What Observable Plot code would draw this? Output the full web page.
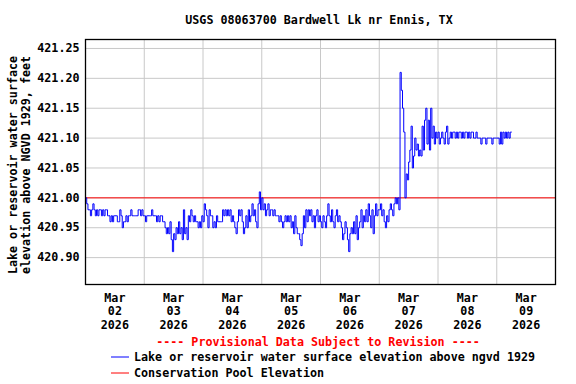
<!DOCTYPE html>
<html><head><meta charset="utf-8">
<script src="https://cdn.jsdelivr.net/npm/d3@7"></script>
<script src="https://cdn.jsdelivr.net/npm/@observablehq/plot@0.6"></script>
<style>body{margin:0;background:#fff} svg{display:block}</style>
</head><body><div id="chart"></div>
<script>
const title = "USGS 08063700 Bardwell Lk nr Ennis, TX";
const yLabel = ["Lake or reservoir water surface", "elevation above NGVD 1929, feet"];
const notice = "---- Provisional Data Subject to Revision ----";
const seriesNames = ["Lake or reservoir water surface elevation above ngvd 1929", "Conservation Pool Elevation"];
const seriesColors = ["#0000ff", "#ff0000"];
const yTicks = [420.90, 420.95, 421.00, 421.05, 421.10, 421.15, 421.20, 421.25];
const dayLabels = ["Mar\n02\n2026", "Mar\n03\n2026", "Mar\n04\n2026", "Mar\n05\n2026", "Mar\n06\n2026", "Mar\n07\n2026", "Mar\n08\n2026", "Mar\n09\n2026"];
const poolElevation = 421.00;

// Readings every 30 minutes from Mar 02 00:00, in hundredths of a foot above 420.00 ft
const mar02 = [100,99,98,98,97,98,99,98,97, 98,97,98,98,97,98,97,98,98,97, 97,96,97,96,97,97,97, 96,96,98,97,95,96,96, 97,96,97,97,98,97, 97,97,97,97,98,98,97,98,97];
const mar03 = [97,96,97,97,97,97,98,97,97,97,96,97,96,97,97,96,96,95,94,95,94,96,93,91,94,93,95,94,96,94,95,93,98,94,95,93,97,96,98,97,96,97,96,96,95,96,95,97];
const mar04 = [96,99,98,97,95,98,97,97,95,96,95,97,96,96,96,96,98,97,98,97,98,97,98,96,97,96,95,94,96,98,97,98,96,94,95,97,95,98,96,97,99,97,98,96,95,99,101,98];
const mar05 = [100,98,99,97,98,99,97,98,98,97,98,97,97,97,96,97,96,95,96,97,96,97,96,97,95,96,94,97,95,94,94,93,92,94,97,95,98,96,98,97,98,96,97,95,97,98,96,97];
const mar06 = [96,95,97,96,95,97,99,97,96,98,96,95,97,98,96,97,96,95,93,94,96,95,93,91,94,95,94,96,94,97,93,95,96,98,95,97,96,98,96,99,97,95,98,94,97,99,97,98];
const mar07 = [98,99,97,98,96,95,97,96,98,99,98,97,99,100,99,100,98,121,118,115,111,100,104,103,106,108,112,105,107,110,108,109,107,108,107,112,108,113,115,109,113,108,115,110,112,109,111,110];
const mar08 = [111,109,110,111,110,109,111,112,109,110,111,110,111,111,110,111,110,111,111,110,111,110,111,111,110,111,110,111,111,110,110,111,110,110,110,109,110,110,110,109,110,110,110,110,109,110,110,110];
const mar09 = [110,110,109,111,109,111,110,111,110,111,110,111,111];

const start = Date.UTC(2026, 2, 2);
const DAY = 864e5, STEP = 30 * 60 * 1000;
const readings = [...mar02, ...mar03, ...mar04, ...mar05, ...mar06, ...mar07, ...mar08, ...mar09]
  .map((h, i) => ({t: new Date(start + i * STEP), v: 420 + h / 100}));
const gridDays = d3.range(1, 8).map(d => new Date(start + d * DAY));
const labelDays = dayLabels.map((_, d) => new Date(start + d * DAY + DAY / 2));

const chart = Plot.plot({
  width: 576, height: 384,
  marginTop: 39, marginBottom: 100, marginLeft: 85, marginRight: 21,
  style: {fontFamily: "DejaVu Sans Mono", fontSize: "11.7px", fontWeight: "bold", background: "#fff", color: "#000"},
  x: {type: "utc", domain: [new Date(start), new Date(start + 8 * DAY)]},
  y: {domain: [420.855, 421.265]},
  marks: [
    Plot.gridY(yTicks, {stroke: "#c8c8c8", strokeOpacity: 1}),
    Plot.gridX(gridDays, {stroke: "#c8c8c8", strokeOpacity: 1}),
    Plot.ruleY([poolElevation], {stroke: seriesColors[1], strokeWidth: 1}),
    Plot.line(readings, {x: "t", y: "v", stroke: seriesColors[0], strokeWidth: 1, curve: "step-after"}),
    Plot.frame({stroke: "#000", strokeWidth: 1.3}),
    Plot.axisY(yTicks, {tickSize: 0, tickPadding: 6, tickFormat: d => d.toFixed(2), label: null}),
    Plot.axisX(labelDays, {tickSize: 0, tickPadding: 8, lineHeight: 1.14, label: null,
      tickFormat: d => dayLabels[Math.floor((d - start) / DAY)]})
  ]
});

const svg = d3.select(chart);
svg.append("text").attr("x", 319).attr("y", 24).attr("text-anchor", "middle").attr("fill", "#000").text(title);
yLabel.forEach((s, i) => svg.append("text")
  .attr("transform", `translate(${17 + 13 * i},165) rotate(-90)`)
  .attr("text-anchor", "middle").attr("fill", "#000").text(s));
svg.append("text").attr("x", 318).attr("y", 346).attr("text-anchor", "middle").attr("fill", "#ff0000").text(notice);
seriesNames.forEach((s, i) => {
  const y = 357 + 16 * i;
  svg.append("line").attr("x1", 111).attr("x2", 129).attr("y1", y).attr("y2", y)
    .attr("stroke", seriesColors[i]).attr("stroke-width", 1);
  svg.append("text").attr("x", 134).attr("y", y + 4).attr("text-anchor", "start").attr("fill", "#000").text(s);
});
document.getElementById("chart").appendChild(chart);
</script>
</body></html>
